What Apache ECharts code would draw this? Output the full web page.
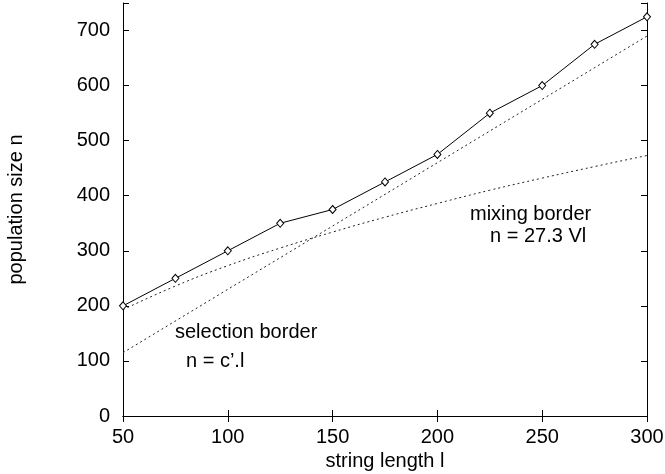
<!DOCTYPE html>
<html>
<head>
    <meta charset="UTF-8" />
    <title>population size vs string length</title>
    <script src="https://cdn.jsdelivr.net/npm/echarts@6/dist/echarts.min.js"></script>
    <style>
        body { margin: 0; background: #fff; }
        #chart { width: 665px; height: 474px; }
    </style>
</head>
<body>
    <div id="chart"></div>
    <script type="text/javascript">
        // values
        var lengths = [50, 75, 100, 125, 150, 175, 200, 225, 250, 275, 300];
        var popSize = [200, 250, 300, 350, 375, 425, 475, 550, 600, 675, 725];
        var mixingBorder = [193, 236, 273, 305, 334, 361, 386, 410, 432, 453, 473];
        var selectionX = [50, 300];
        var selectionY = [115, 690];
        var xTicks = [50, 100, 150, 200, 250, 300];
        var yTicks = [0, 100, 200, 300, 400, 500, 600, 700];

        var font = 'Liberation Sans, Arial, Helvetica, sans-serif';

        var pairs = (xs, ys) => xs.map((x, i) => [x, ys[i]]);

        var chart = echarts.init(document.getElementById('chart'));

        var baseAxis = {
            axisLine: { lineStyle: { color: '#000', width: 1 } },
            axisTick: { inside: true, length: 6, lineStyle: { color: '#000' } },
            splitLine: { show: false }
        };

        var option = {
            animation: false,
            grid: { left: 123, right: 18, top: 3, bottom: 58, outerBoundsMode: 'none' },
            xAxis: [
                Object.assign({}, baseAxis, {
                    type: 'value', min: 50, max: 300, interval: 50,
                    name: 'string length l', nameLocation: 'middle', nameGap: 31,
                    nameTextStyle: { color: '#000', fontSize: 20, fontFamily: font },
                    axisLabel: { color: '#000', fontSize: 20, fontFamily: font, margin: 11 }
                }),
                Object.assign({}, baseAxis, {
                    type: 'value', min: 50, max: 300, interval: 50, position: 'top',
                    axisLabel: { show: false }
                })
            ],
            yAxis: [
                Object.assign({}, baseAxis, {
                    type: 'value', min: 0, max: 750, interval: 100,
                    name: 'population size n', nameLocation: 'middle', nameGap: 97,
                    nameTextStyle: { color: '#000', fontSize: 20, fontFamily: font },
                    axisLabel: {
                        color: '#000', fontSize: 20, fontFamily: font, margin: 13,
                        formatter: v => yTicks.indexOf(v) >= 0 ? String(v) : ''
                    }
                }),
                Object.assign({}, baseAxis, {
                    type: 'value', min: 0, max: 750, interval: 100, position: 'right',
                    axisLabel: { show: false }
                })
            ],
            series: [
                {
                    type: 'line',
                    data: pairs(selectionX, selectionY),
                    symbol: 'none',
                    lineStyle: { color: '#222', width: 1, type: [2, 3] }
                },
                {
                    type: 'line',
                    data: pairs(lengths, mixingBorder),
                    smooth: true,
                    symbol: 'none',
                    lineStyle: { color: '#222', width: 1, type: [2, 3] }
                },
                {
                    type: 'line',
                    data: pairs(lengths, popSize),
                    symbol: 'diamond',
                    symbolSize: [7, 8],
                    showAllSymbol: true,
                    itemStyle: { color: '#fff', borderColor: '#000', borderWidth: 1 },
                    lineStyle: { color: '#000', width: 1 }
                }
            ],
            graphic: [
                { type: 'text', left: 470, top: 204, style: { text: 'mixing border', fill: '#000', font: '20px ' + font } },
                { type: 'text', left: 490, top: 226, style: { text: 'n = 27.3 Vl', fill: '#000', font: '20px ' + font } },
                { type: 'text', left: 175, top: 322, style: { text: 'selection border', fill: '#000', font: '20px ' + font } },
                { type: 'text', left: 186, top: 351, style: { text: 'n = c\u2019.l', fill: '#000', font: '20px ' + font } }
            ]
        };
        chart.setOption(option);
    </script>
</body>
</html>
